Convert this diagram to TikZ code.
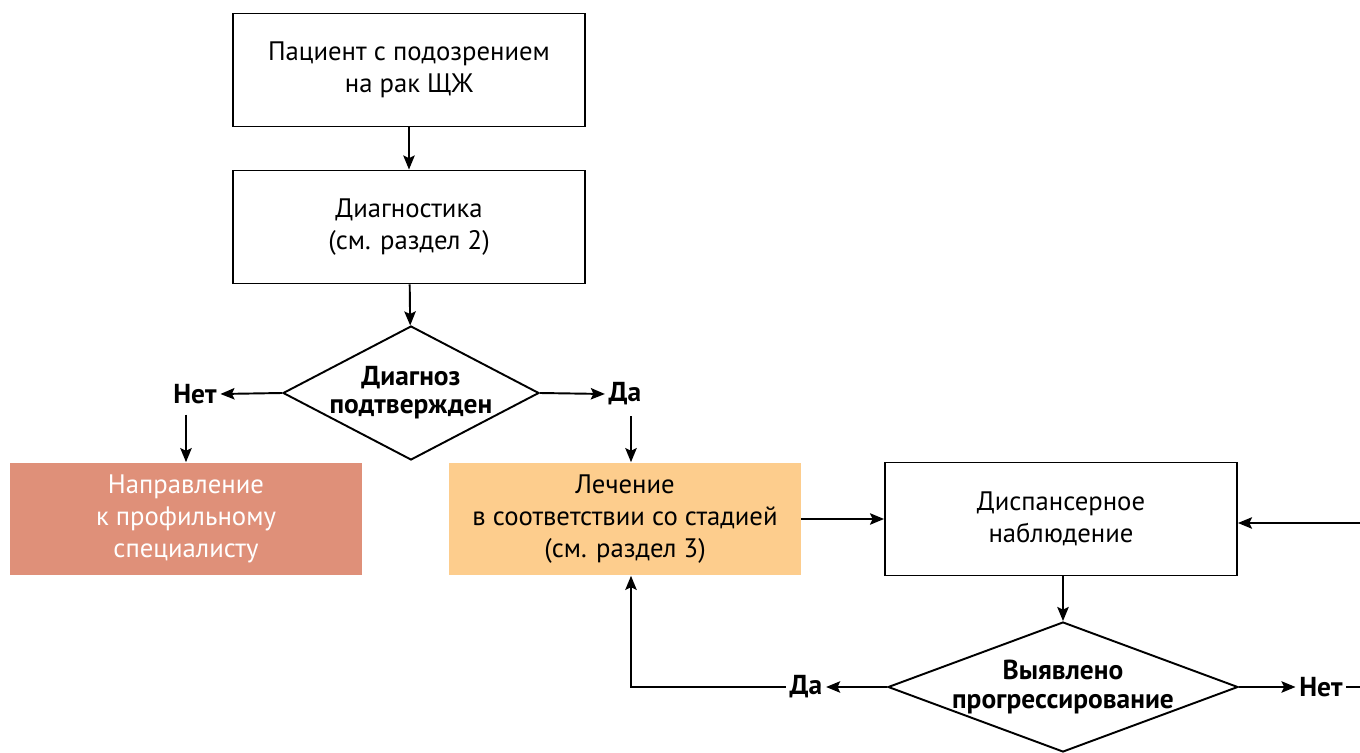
\documentclass[tikz,border=0pt]{standalone}
\usepackage{fontspec}
\setmainfont{PT Sans}
\usetikzlibrary{arrows.meta,positioning,shapes.geometric}
\definecolor{refcol}{HTML}{DF9079}
\definecolor{treatcol}{HTML}{FDCD8D}

\begin{document}
\begin{tikzpicture}[x=0.02cm, y=-0.02cm,
	every node/.style={font=\fontsize{15.2}{18.3}\selectfont},
	block/.style={draw, line width=1.1pt, minimum width=7.04cm, minimum height=2.26cm, align=center, inner sep=0pt},
	fillblock/.style={minimum width=7.04cm, minimum height=2.26cm, align=center, inner sep=0pt},
	decision/.style={diamond, draw, line width=1.1pt, align=center, inner sep=-3pt, font=\fontsize{15.6}{16}\selectfont\bfseries},
	answer/.style={font=\fontsize{15.6}{16}\selectfont\bfseries, inner sep=2pt},
	arr/.style={-{Stealth[length=8pt, width=6.5pt, inset=1.5pt]}, line width=1.1pt},
	ln/.style={line width=1.1pt}]
	\useasboundingbox (0,0) rectangle (1360,753);

	\node (pat) at (409, 70) [block] {Пациент с подозрением\\на рак ЩЖ};
	\node (diag) at (409, 227) [block] {Диагностика\\(см. раздел 2)};
	\node (conf) at (411, 393) [decision, aspect=1.91, minimum width=5.12cm, minimum height=2.68cm] {Диагноз\\подтвержден};
	\node (no1) at (195, 394) [answer] {Нет};
	\node (yes1) at (625, 394) [answer] {Да};

	\node (refer) at (186, 519) [fillblock, fill=refcol, text=white] {Направление\\к профильному\\специалисту};
	\node (treat) at (625, 519) [fillblock, fill=treatcol] {Лечение\\в соответствии со стадией\\(см. раздел 3)};
	\node (follow) at (1061, 519) [block] {Диспансерное\\наблюдение};

	\node (prog) at (1063, 687) [decision, aspect=2.69, minimum width=7cm, minimum height=2.6cm] {Выявлено\\прогрессирование};
	\node (yes2) at (806, 687) [answer] {Да};
	\node (no2) at (1321, 687) [answer] {Нет};

	\coordinate (down) at (631, 0);
	\coordinate (rin) at (1360, 523);
	\coordinate (rout) at (1360, 687);

	\draw[arr] (pat) -- (diag);
	\draw[arr] (diag) -- (conf);
	\draw[arr] (conf.west) -- (no1.east);
	\draw[arr] (conf.east) -- (yes1.west);
	\draw[arr] ([yshift=-4pt]no1.south -| refer.north) -- (refer.north);
	\draw[arr] ([yshift=-4pt]yes1.south -| down) -- (treat.north -| down);
	\draw[arr] (treat.east) -- (follow.west);
	\draw[arr] (rin) -- (rin -| follow.east);
	\draw[arr] (follow.south -| prog.north) -- (prog.north);
	\draw[arr] (prog.west) -- (yes2.east);
	\draw[arr] (prog.east) -- (no2.west);
	\draw[arr] (yes2.west) -| (treat.south -| down);
	\draw[ln] (no2.east) -- (rout);

\end{tikzpicture}
\end{document}
